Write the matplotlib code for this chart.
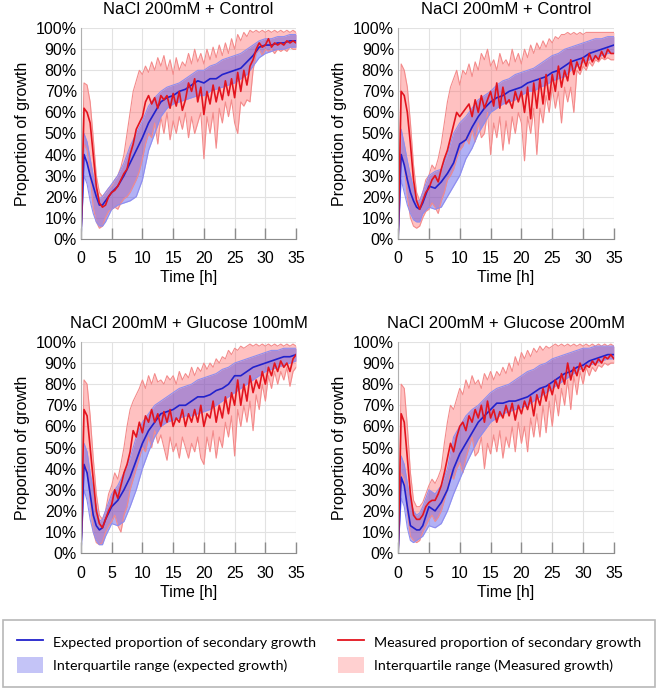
import numpy as np
import matplotlib
matplotlib.use("Agg")
from matplotlib import pyplot as plt
from matplotlib.lines import Line2D
from matplotlib.patches import Patch

plt.rcParams['font.family'] = ['Liberation Sans', 'DejaVu Sans']

titles = ["NaCl 200mM + Control", "NaCl 200mM + Control",
          "NaCl 200mM + Glucose 100mM", "NaCl 200mM + Glucose 200mM"]

# time grids [h]
hours = np.arange(0, 35.5, 0.5)  # measured series, every half hour
hours_exp = [0, 0.5, 1, 1.5, 2, 2.5, 3, 3.5, 4] + list(range(5, 36))

# expected growth (median, upper / lower quartile) in %
exp_med_1 = [0, 40, 36, 30, 25, 20, 16, 16, 18, 22, 25, 30, 36, 42, 48, 55, 60, 65, 67, 68, 70, 71, 73, 75, 74, 76,
             76, 78, 79, 80, 81, 84, 87, 91, 92, 92, 93, 93, 94, 94]
exp_hi_1 = [0, 50, 46, 38, 30, 24, 19, 20, 22, 26, 30, 36, 44, 50, 56, 63, 67, 70, 72, 73, 74, 76, 78, 80, 80, 82,
            83, 85, 86, 87, 88, 90, 92, 94, 95, 95, 96, 96, 97, 97]
exp_lo_1 = [0, 30, 26, 18, 12, 8, 6, 6, 8, 14, 16, 17, 18, 20, 28, 42, 50, 58, 62, 64, 65, 66, 67, 68, 68, 70,
            71, 72, 73, 74, 76, 78, 82, 86, 88, 89, 90, 90, 91, 91]

exp_med_2 = [0, 40, 35, 28, 22, 18, 15, 14, 17, 25, 24, 27, 31, 36, 45, 47, 53, 58, 62, 65, 67, 68, 70, 71, 72, 74,
             75, 76, 77, 79, 80, 82, 84, 85, 86, 88, 89, 90, 91, 92]
exp_hi_2 = [0, 52, 45, 37, 30, 24, 18, 18, 22, 30, 32, 33, 40, 50, 55, 58, 62, 66, 68, 70, 73, 75, 76, 78, 79, 80,
            81, 83, 85, 87, 88, 90, 91, 92, 93, 94, 95, 95, 96, 96]
exp_lo_2 = [0, 28, 22, 16, 12, 9, 8, 8, 12, 15, 14, 15, 20, 25, 30, 38, 43, 50, 55, 60, 62, 64, 65, 66, 68, 70,
            70, 72, 73, 75, 76, 77, 80, 82, 84, 85, 86, 87, 88, 88]

exp_med_3 = [0, 42, 38, 28, 18, 13, 11, 12, 16, 22, 25, 30, 36, 44, 52, 58, 62, 66, 67, 68, 70, 70, 72, 74, 74, 75,
             77, 78, 80, 84, 84, 86, 88, 89, 90, 91, 92, 93, 93, 94]
exp_hi_3 = [0, 52, 48, 38, 30, 22, 15, 16, 20, 28, 32, 38, 45, 55, 62, 66, 70, 72, 74, 76, 78, 79, 80, 82, 83, 84,
            85, 87, 88, 90, 91, 92, 93, 94, 95, 96, 96, 97, 97, 97]
exp_lo_3 = [0, 30, 25, 16, 10, 6, 4, 4, 8, 14, 13, 15, 22, 30, 40, 48, 55, 60, 62, 63, 64, 65, 65, 66, 67, 68,
            70, 72, 74, 76, 78, 80, 82, 84, 86, 87, 88, 89, 90, 91]

exp_med_4 = [0, 36, 32, 22, 13, 12, 11, 11, 13, 22, 20, 24, 30, 40, 47, 52, 57, 62, 65, 68, 71, 71, 72, 72, 73, 74,
             76, 78, 79, 81, 83, 85, 86, 88, 89, 91, 92, 93, 94, 94]
exp_hi_4 = [0, 46, 42, 33, 25, 20, 18, 19, 22, 30, 28, 32, 40, 55, 60, 65, 68, 70, 73, 76, 78, 79, 80, 82, 84, 86,
            87, 89, 90, 92, 93, 94, 95, 96, 97, 97, 98, 98, 98, 98]
exp_lo_4 = [0, 26, 22, 12, 6, 5, 6, 7, 8, 13, 12, 14, 20, 28, 35, 42, 48, 54, 58, 62, 64, 66, 67, 68, 69, 70,
            72, 74, 76, 78, 80, 82, 84, 86, 88, 89, 90, 91, 92, 92]

# measured growth (median, upper / lower quartile) in %
mes_med_1 = [0, 62, 60, 55, 40, 25, 17, 15, 16, 20, 22, 23, 25, 28, 31, 33, 40, 45, 52, 55, 58, 65, 68, 64, 67, 62,
             68, 66, 68, 62, 69, 63, 70, 61, 66, 74, 70, 76, 65, 72, 59, 70, 64, 73, 65, 72, 66, 75, 68, 76, 67, 79,
             70, 80, 73, 82, 85, 90, 93, 91, 92, 95, 91, 93, 92, 93, 92, 94, 93, 94, 93]
mes_hi_1 = [0, 74, 73, 65, 48, 30, 22, 20, 22, 24, 25, 28, 30, 34, 40, 50, 60, 70, 75, 80, 78, 82, 79, 84, 80, 86,
            82, 87, 80, 85, 78, 86, 80, 84, 82, 88, 83, 90, 84, 88, 83, 90, 85, 91, 86, 92, 87, 93, 88, 95, 90, 97,
            94, 98, 96, 99, 98, 99, 98, 99, 98, 99, 98, 99, 98, 99, 98, 99, 98, 99, 98]
mes_lo_1 = [0, 45, 42, 30, 15, 8, 5, 6, 10, 13, 14, 15, 14, 17, 19, 20, 22, 25, 28, 32, 38, 45, 50, 48, 55, 45,
            58, 50, 60, 47, 56, 50, 58, 52, 60, 48, 58, 50, 55, 60, 38, 58, 50, 60, 43, 62, 55, 65, 58, 66, 55, 50,
            65, 63, 66, 65, 80, 88, 90, 87, 90, 89, 90, 88, 90, 89, 90, 89, 91, 90, 90]

mes_med_2 = [0, 70, 68, 60, 45, 28, 18, 14, 18, 22, 24, 28, 30, 27, 33, 38, 42, 48, 54, 60, 58, 60, 62, 64, 58, 66,
             60, 68, 62, 66, 70, 63, 74, 62, 72, 64, 66, 62, 70, 65, 70, 60, 72, 57, 74, 62, 76, 64, 78, 66, 78, 70,
             82, 72, 80, 75, 85, 78, 84, 80, 86, 82, 88, 84, 87, 85, 89, 86, 90, 88, 88]
mes_hi_2 = [0, 83, 80, 72, 55, 35, 22, 18, 22, 28, 30, 35, 33, 38, 45, 55, 65, 72, 76, 80, 73, 80, 78, 83, 77, 84,
            80, 88, 85, 90, 82, 85, 80, 88, 83, 85, 82, 90, 84, 88, 83, 90, 86, 92, 88, 93, 90, 94, 91, 95, 93, 96,
            95, 97, 97, 98, 97, 98, 97, 98, 97, 98, 98, 98, 98, 98, 98, 98, 98, 98, 98]
mes_lo_2 = [0, 40, 35, 20, 10, 6, 5, 6, 10, 13, 14, 17, 15, 12, 18, 22, 28, 30, 33, 38, 42, 44, 48, 45, 52, 46,
            55, 48, 50, 60, 40, 55, 48, 58, 42, 56, 45, 58, 50, 60, 55, 37, 58, 50, 62, 40, 62, 55, 68, 60, 72, 62,
            70, 55, 72, 65, 72, 60, 80, 78, 82, 80, 84, 82, 85, 84, 86, 85, 86, 85, 85]

mes_med_3 = [0, 68, 65, 50, 35, 20, 14, 12, 16, 20, 23, 30, 26, 32, 38, 42, 48, 58, 55, 62, 57, 65, 62, 68, 62, 66,
             60, 67, 62, 68, 60, 64, 62, 68, 60, 66, 62, 68, 62, 70, 60, 66, 64, 72, 62, 70, 64, 74, 66, 76, 70, 82,
             70, 80, 72, 84, 76, 82, 78, 86, 80, 88, 84, 90, 86, 91, 88, 90, 86, 92, 94]
mes_hi_3 = [0, 82, 80, 65, 45, 28, 18, 16, 20, 28, 32, 38, 35, 42, 50, 60, 68, 72, 75, 78, 82, 78, 84, 80, 85, 81,
            82, 80, 84, 82, 84, 80, 86, 82, 85, 83, 88, 84, 88, 86, 90, 87, 90, 88, 92, 90, 93, 92, 96, 94, 97, 96,
            98, 97, 98, 99, 98, 99, 98, 99, 98, 99, 98, 99, 98, 99, 98, 99, 98, 99, 98]
mes_lo_3 = [0, 42, 40, 25, 10, 5, 4, 5, 10, 13, 15, 18, 13, 10, 18, 22, 30, 35, 40, 45, 50, 48, 55, 50, 58, 52,
            56, 50, 44, 55, 48, 52, 45, 55, 50, 45, 52, 48, 55, 45, 42, 55, 48, 58, 45, 55, 50, 62, 55, 65, 46, 68,
            60, 70, 62, 72, 58, 75, 68, 80, 72, 84, 78, 86, 80, 86, 82, 88, 79, 86, 88]

mes_med_4 = [0, 66, 62, 45, 28, 18, 16, 16, 18, 22, 24, 25, 25, 28, 32, 38, 45, 52, 48, 55, 60, 62, 58, 65, 62, 68,
             64, 70, 62, 72, 64, 68, 62, 67, 64, 70, 65, 71, 63, 70, 66, 72, 68, 74, 65, 75, 70, 78, 72, 80, 75, 82,
             78, 85, 80, 90, 82, 88, 84, 90, 86, 89, 88, 91, 89, 92, 90, 93, 92, 94, 92]
mes_hi_4 = [0, 80, 78, 60, 38, 25, 22, 22, 24, 28, 32, 35, 33, 36, 40, 52, 62, 70, 68, 73, 78, 75, 82, 78, 84, 80,
            82, 78, 85, 82, 86, 82, 86, 84, 88, 85, 90, 86, 93, 89, 95, 92, 96, 93, 97, 95, 98, 96, 98, 97, 98, 99,
            98, 99, 98, 99, 98, 99, 98, 99, 98, 99, 98, 99, 98, 99, 98, 99, 98, 99, 98]
mes_lo_4 = [0, 38, 35, 20, 8, 6, 5, 6, 10, 13, 16, 18, 15, 17, 20, 25, 30, 38, 35, 40, 43, 38, 45, 50, 55, 46,
            48, 55, 40, 52, 47, 56, 48, 58, 45, 55, 50, 60, 48, 62, 52, 60, 48, 64, 55, 66, 55, 70, 57, 72, 60, 75,
            65, 78, 70, 82, 68, 84, 75, 86, 80, 88, 84, 88, 86, 89, 88, 90, 89, 90, 90]

expected = [(exp_med_1, exp_lo_1, exp_hi_1), (exp_med_2, exp_lo_2, exp_hi_2),
            (exp_med_3, exp_lo_3, exp_hi_3), (exp_med_4, exp_lo_4, exp_hi_4)]
measured = [(mes_med_1, mes_lo_1, mes_hi_1), (mes_med_2, mes_lo_2, mes_hi_2),
            (mes_med_3, mes_lo_3, mes_hi_3), (mes_med_4, mes_lo_4, mes_hi_4)]

blue = '#2121cc'
red = '#e3141e'
blue_fill = (0.24, 0.24, 0.9)
red_fill = (1.0, 0.4, 0.4)

fig = plt.figure(figsize=(6.58, 6.88), dpi=100)

# axes rectangles in figure fractions
rects = [(0.123, 0.653, 0.327, 0.306), (0.605, 0.653, 0.328, 0.306),
         (0.123, 0.196, 0.327, 0.307), (0.605, 0.196, 0.328, 0.307)]

for i in range(4):
    ax = fig.add_axes(rects[i])
    e_med, e_lo, e_hi = expected[i]
    m_med, m_lo, m_hi = measured[i]

    ax.fill_between(hours, m_lo, m_hi, color=red_fill, alpha=0.4, lw=0)
    ax.plot(hours, m_lo, color='#f38b8b', lw=0.8)
    ax.plot(hours, m_hi, color='#f38b8b', lw=0.8)
    ax.fill_between(hours_exp, e_lo, e_hi, color=blue_fill, alpha=0.4, lw=0)
    ax.plot(hours_exp, e_lo, color='#8d8df0', lw=0.8)
    ax.plot(hours_exp, e_hi, color='#8d8df0', lw=0.8)
    ax.plot(hours_exp, e_med, color=blue, lw=1.2)
    ax.plot(hours, m_med, color=red, lw=1.2)

    ax.set_xlim(0, 35)
    ax.set_ylim(0, 100)
    ax.set_xticks(range(0, 36, 5))
    ax.set_yticks(range(0, 101, 10))
    ax.set_yticklabels([f"{v}%" for v in range(0, 101, 10)])
    ax.grid(True, color='#e2e2e2', lw=0.8)
    ax.set_axisbelow(True)
    ax.tick_params(axis='x', direction='in', length=8, width=1, color='#8c8c8c',
                   pad=9, labelsize=11.5)
    ax.tick_params(axis='y', length=0, pad=3, labelsize=11.5)
    for s in ['top', 'right']:
        ax.spines[s].set_visible(False)
    ax.spines['left'].set_color('#b0b0b0')
    ax.spines['bottom'].set_color('#8c8c8c')
    ax.set_title(titles[i], fontsize=12, pad=10)
    ax.set_xlabel("Time [h]", fontsize=11.5, labelpad=3)
    ax.set_ylabel("Proportion of growth", fontsize=11.5, labelpad=4)

handles = [Line2D([], [], color=blue, lw=1.3),
           Patch(facecolor=blue_fill, alpha=0.3, edgecolor='none'),
           Line2D([], [], color=red, lw=1.3),
           Patch(facecolor=red_fill, alpha=0.3, edgecolor='none')]
labels = ["Expected proportion of secondary growth", "Interquartile range (expected growth)",
          "Measured proportion of secondary growth", "Interquartile range (Measured growth)"]
leg = fig.legend(handles, labels, ncol=2, loc='lower left', mode='expand',
                 bbox_to_anchor=(0.005, 0.0015, 0.99, 0.099), fancybox=False,
                 edgecolor='#b8b8b8', framealpha=1, borderaxespad=0,
                 prop={'family': 'Lato', 'size': 10.3}, handlelength=1.8,
                 handleheight=1.4, handletextpad=0.7, labelspacing=0.45,
                 borderpad=0.95)
leg.get_frame().set_linewidth(1.2)

fig.savefig("out.png", dpi=100)
